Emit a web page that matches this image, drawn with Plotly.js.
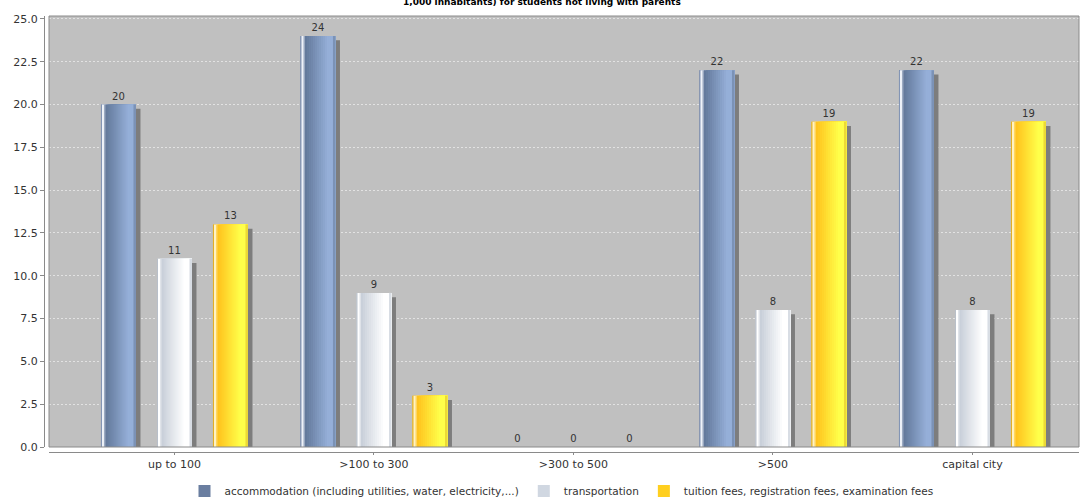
<!DOCTYPE html>
<html><head><meta charset="utf-8">
<script src="https://cdn.plot.ly/plotly-3.0.1.min.js"></script>
<style>html,body{margin:0;padding:0;background:#fff}#chart{width:1083px;height:498px}</style>
</head><body><div id="chart"></div>
<script>
const categories = ['up to 100', '>100 to 300', '>300 to 500', '>500', 'capital city'];
const accommodation = [20, 24, 0, 22, 22];
const transportation = [11, 9, 0, 8, 8];
const tuitionFees = [13, 3, 0, 19, 19];
const seriesNames = [
  'accommodation (including utilities, water, electricity,...)',
  'transportation',
  'tuition fees, registration fees, examination fees'
];
const titleText = '1,000 inhabitants) for students not living with parents';
const yTickVals = [0, 2.5, 5, 7.5, 10, 12.5, 15, 17.5, 20, 22.5, 25];

const seriesValues = [accommodation, transportation, tuitionFees];
const FONT = 'DejaVu Sans, Verdana, sans-serif';
const W = 1083, H = 498, M = {l: 44, r: 4, t: 16, b: 46, autoexpand: false};
const plotW = W - M.l - M.r, plotH = H - M.t - M.b;
const gapPx = 5;
const xRange = [-0.629, 4.534];
const yRange = [0, 25.17];
const u = (xRange[1] - xRange[0]) / (plotW - gapPx);
const yu = (yRange[1] - yRange[0]) / (plotH - gapPx);
const shadowDy = 4.3 * yu;
const barW = 35, centersPx = [-56, 0, 56], shadowDx = 4.5;

const styles = [
  {edge: '#7f92b3', hi: '#eef2f8', g0: '#647a9c', g1: '#95afd8', right: '#7b92b6', legend: '#6a7ea0'},
  {edge: '#b7bec8', hi: '#ffffff', g0: '#c9d0da', g1: '#ffffff', right: '#d8dde4', legend: '#d0d7e1'},
  {edge: '#e3ad22', hi: '#fff3c4', g0: '#ffc41e', g1: '#ffff4a', right: '#ecd936', legend: '#ffcf1f'}
];

function hex(c){return [1,3,5].map(i=>parseInt(c.substr(i,2),16));}
function mix(a,b,t){const A=hex(a),B=hex(b);return 'rgb('+A.map((v,i)=>Math.round(v+(B[i]-v)*t)).join(',')+')';}

const traces = [];
const barBase = {type: 'bar', x: categories, hoverinfo: 'skip', showlegend: false};

seriesValues.forEach((vals, s) => {
  const st = styles[s];
  const leftPx = centersPx[s] - barW / 2;
  // shadow
  traces.push(Object.assign({}, barBase, {
    y: vals, yaxis: 'y', width: barW * u, offset: (leftPx + shadowDx) * u,
    marker: {color: '#7d7d7d', line: {width: 0}}
  }));
  // base bar with label and legend
  traces.push(Object.assign({}, barBase, {
    y: vals, yaxis: 'y2', width: barW * u, offset: leftPx * u,
    name: seriesNames[s], showlegend: true, legendrank: s + 1,
    marker: {color: st.legend, line: {width: 0}},
    text: vals.map(v => String(v)), textposition: 'outside', cliponaxis: false,
    constraintext: 'none', textfont: {family: FONT, size: 10, color: '#333'}
  }));
  // gradient strips: each strip runs to the bar's right end, later ones drawn on top
  const starts = [[0, st.edge], [1, st.hi], [3, mix(st.hi, st.g0, 0.6)]];
  const n = 14, g0 = 4.5, g1 = 32.5;
  for (let i = 0; i < n; i++) {
    starts.push([g0 + (g1 - g0) * i / n, mix(st.g0, st.g1, Math.min(1, i / (n - 3)))]);
  }
  starts.push([32.5, st.right]);
  starts.forEach(sg => {
    traces.push(Object.assign({}, barBase, {
      y: vals, yaxis: 'y2', width: (barW - sg[0]) * u, offset: (leftPx + sg[0]) * u,
      marker: {color: sg[1], line: {width: 0}}
    }));
  });
});

const xDom = [gapPx / plotW, 1], yDom = [gapPx / plotH, 1];
const layout = {
  width: W, height: H, margin: M,
  paper_bgcolor: '#ffffff', plot_bgcolor: '#c0c0c0',
  barmode: 'overlay',
  font: {family: FONT, size: 11, color: '#333'},
  xaxis: {
    domain: xDom, anchor: 'free', position: 0, range: xRange, type: 'category',
    showline: true, linecolor: '#8a8a8a', linewidth: 1, ticks: 'outside', ticklen: 2,
    tickcolor: '#8a8a8a', showgrid: false, zeroline: false,
    tickfont: {family: FONT, size: 11, color: '#333'}, fixedrange: true
  },
  yaxis: {
    domain: yDom, anchor: 'free', position: 0, visible: false,
    range: [yRange[0] + shadowDy, yRange[1] + shadowDy], showgrid: false, zeroline: false, fixedrange: true
  },
  yaxis2: {
    overlaying: 'y', anchor: 'free', position: 0, side: 'left', range: yRange,
    tickvals: yTickVals, tickformat: '.1f',
    showline: true, linecolor: '#8a8a8a', linewidth: 1, ticks: 'outside', ticklen: 4,
    tickcolor: '#8a8a8a', showgrid: true, gridcolor: '#e2e2e2', griddash: '2px,2px', gridwidth: 1,
    zeroline: false, tickfont: {family: FONT, size: 11, color: '#333'}, fixedrange: true
  },
  shapes: [{
    type: 'rect', xref: 'x domain', yref: 'y domain', x0: 0, x1: 1, y0: 0, y1: 1,
    line: {color: '#8a8a8a', width: 1}, layer: 'above'
  }],
  annotations: [{
    text: '<b>' + titleText + '</b>', xref: 'paper', yref: 'paper',
    x: (W / 2 - M.l) / plotW, xanchor: 'center',
    y: 1 + (M.t - 2) / plotH, yanchor: 'middle', showarrow: false,
    font: {family: FONT, size: 9, color: '#000'}
  }],
  showlegend: true,
  legend: {
    orientation: 'h', x: 0.5, xanchor: 'center', y: -(491 - (H - M.b)) / plotH, yanchor: 'middle',
    font: {family: FONT, size: 10.5, color: '#333'}, itemwidth: 30, bgcolor: 'rgba(0,0,0,0)',
    traceorder: 'normal'
  }
};

Plotly.newPlot('chart', traces, layout, {displayModeBar: false, responsive: false});
</script>
</body></html>
